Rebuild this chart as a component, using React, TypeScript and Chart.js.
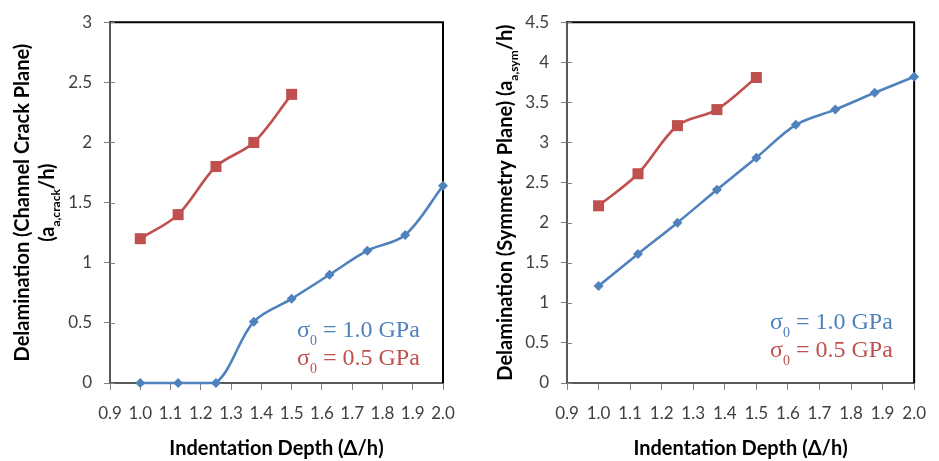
import React, { useEffect, useRef } from "react";
import { Chart, registerables } from "chart.js";

Chart.register(...registerables);

// ---- data ----
const depthBlue = [1.0, 1.125, 1.25, 1.375, 1.5, 1.625, 1.75, 1.875, 2.0];
const depthRed = [1.0, 1.125, 1.25, 1.375, 1.5];
const crackBlue = [0, 0, 0, 0.51, 0.7, 0.9, 1.1, 1.23, 1.64];
const crackRed = [1.2, 1.4, 1.8, 2.0, 2.4];
const symBlue = [1.21, 1.61, 2.0, 2.41, 2.81, 3.22, 3.41, 3.62, 3.82];
const symRed = [2.21, 2.61, 3.21, 3.41, 3.81];
const xMin = 0.9;
const xMax = 2.0;
const legendBlue = "1.0 GPa";
const legendRed = "0.5 GPa";

const BLUE = "#4F81BD";
const RED = "#C0504D";
const SANS = "Lato, 'Open Sans', sans-serif";
const SERIF = "'Liberation Serif', 'DejaVu Serif', serif";

type Seg = { t: string; sub?: boolean };

function drawRich(
  ctx: CanvasRenderingContext2D,
  segs: Seg[],
  x: number,
  y: number,
  size: number,
  family: string,
  weight: string,
  color: string,
  rotate: boolean,
  align: "center" | "left",
  subScale = 0.65,
  subDrop = 0.3
) {
  ctx.save();
  ctx.translate(x, y);
  if (rotate) ctx.rotate(-Math.PI / 2);
  const mainFont = `${weight} ${size}px ${family}`;
  const subSize = Math.round(size * subScale);
  const subFont = `${weight} ${subSize}px ${family}`;
  let total = 0;
  const widths = segs.map((s) => {
    ctx.font = s.sub ? subFont : mainFont;
    const w = ctx.measureText(s.t).width;
    total += w;
    return w;
  });
  let cx = align === "center" ? -total / 2 : 0;
  ctx.textBaseline = "alphabetic";
  ctx.textAlign = "left";
  ctx.fillStyle = color;
  segs.forEach((s, i) => {
    ctx.font = s.sub ? subFont : mainFont;
    ctx.fillText(s.t, cx, s.sub ? size * subDrop : 0);
    cx += widths[i];
  });
  ctx.restore();
}

type Panel = {
  blue: number[];
  red: number[];
  yMax: number;
  yWidth: number;
  padRight: number;
  yTitles: { segs: Seg[]; x: number }[];
  legendX: number;
  legendY: number;
};

function makeChart(canvas: HTMLCanvasElement, p: Panel) {
  const framePlugin = {
    id: "frame",
    beforeDatasetsDraw(chart: any) {
      const { ctx, chartArea: a } = chart;
      ctx.save();
      ctx.strokeStyle = "#000";
      ctx.lineWidth = 2;
      ctx.beginPath();
      ctx.moveTo(a.left, a.top);
      ctx.lineTo(a.right, a.top);
      ctx.lineTo(a.right, a.bottom);
      ctx.stroke();
      // inner part of y ticks
      const ys = chart.scales.y;
      ctx.strokeStyle = "#808080";
      ctx.lineWidth = 1;
      ys.ticks.forEach((t: any) => {
        const py = Math.round(ys.getPixelForValue(t.value)) + 0.5;
        ctx.beginPath();
        ctx.moveTo(a.left, py);
        ctx.lineTo(a.left + 5, py);
        ctx.stroke();
      });
      ctx.restore();
    },
    afterDraw(chart: any) {
      const { ctx, chartArea: a } = chart;
      const midY = (a.top + a.bottom) / 2;
      p.yTitles.forEach((t) => {
        drawRich(ctx, t.segs, t.x, midY, 20, SANS, "bold", "#000", true, "center", 0.62, 0.3);
      });
      drawRich(
        ctx,
        [{ t: "Indentation Depth (\u0394/h)" }],
        (a.left + a.right) / 2,
        455,
        20,
        SANS,
        "bold",
        "#000",
        false,
        "center"
      );
      drawRich(
        ctx,
        [{ t: "\u03c3" }, { t: "0", sub: true }, { t: " = " + legendBlue }],
        p.legendX,
        p.legendY,
        24,
        SERIF,
        "normal",
        BLUE,
        false,
        "left",
        0.6,
        0.32
      );
      drawRich(
        ctx,
        [{ t: "\u03c3" }, { t: "0", sub: true }, { t: " = " + legendRed }],
        p.legendX,
        p.legendY + 28,
        24,
        SERIF,
        "normal",
        RED,
        false,
        "left",
        0.6,
        0.32
      );
    },
  };

  const tickFont = { family: SANS, size: 17 };
  return new Chart(canvas, {
    type: "line",
    data: {
      datasets: [
        {
          label: "\u03c30 = " + legendBlue,
          data: depthBlue.map((x, i) => ({ x, y: p.blue[i] })),
          borderColor: BLUE,
          backgroundColor: BLUE,
          borderWidth: 2.6,
          pointStyle: "rectRot",
          pointRadius: 5,
          pointBorderWidth: 0,
          tension: 0.33,
          clip: false,
        },
        {
          label: "\u03c30 = " + legendRed,
          data: depthRed.map((x, i) => ({ x, y: p.red[i] })),
          borderColor: RED,
          backgroundColor: RED,
          borderWidth: 2.6,
          pointStyle: "rect",
          pointRadius: 7.8,
          pointBorderWidth: 0,
          tension: 0.33,
          clip: false,
        },
      ],
    },
    options: {
      responsive: false,
      animation: false,
      events: [],
      layout: { padding: { top: 14, right: p.padRight, left: 0, bottom: 0 } },
      plugins: { legend: { display: false }, tooltip: { enabled: false } },
      scales: {
        x: {
          type: "linear",
          min: xMin,
          max: xMax,
          afterFit: (s: any) => {
            s.height = 78;
          },
          border: { color: "#595959", width: 2 },
          grid: { drawOnChartArea: false, tickLength: 7, color: "#808080" },
          ticks: {
            stepSize: 0.1,
            padding: 13,
            color: "#404040",
            font: tickFont,
            maxRotation: 0,
            autoSkip: false,
            callback: (v: any) => Number(v).toFixed(1),
          },
        },
        y: {
          type: "linear",
          min: 0,
          max: p.yMax,
          afterFit: (s: any) => {
            s.width = p.yWidth;
          },
          border: { color: "#595959", width: 2 },
          grid: { drawOnChartArea: false, tickLength: 6, color: "#808080" },
          ticks: {
            stepSize: 0.5,
            padding: 12,
            color: "#404040",
            font: tickFont,
            callback: (v: any) => String(+Number(v).toFixed(2)),
          },
        },
      },
    },
    plugins: [framePlugin],
  } as any);
}

function ChartPanel({ width, panel }: { width: number; panel: Panel }) {
  const ref = useRef<HTMLCanvasElement>(null);
  useEffect(() => {
    if (!ref.current) return;
    const c = makeChart(ref.current, panel);
    return () => c.destroy();
  }, []);
  return <canvas ref={ref} width={width} height={461} style={{ display: "block" }} />;
}

const leftPanel: Panel = {
  blue: crackBlue,
  red: crackRed,
  yMax: 3,
  yWidth: 110,
  padRight: 27,
  yTitles: [
    { segs: [{ t: "Delamination (Channel Crack Plane)" }], x: 29 },
    { segs: [{ t: "(a" }, { t: "a,crack", sub: true }, { t: "/h)" }], x: 54 },
  ],
  legendX: 297,
  legendY: 337,
};

const rightPanel: Panel = {
  blue: symBlue,
  red: symRed,
  yMax: 4.5,
  yWidth: 97,
  padRight: 14,
  yTitles: [
    {
      segs: [
        { t: "Delamination (Symmetry Plane) (a" },
        { t: "a,sym", sub: true },
        { t: "/h)" },
      ],
      x: 42,
    },
  ],
  legendX: 300,
  legendY: 329,
};

export default function App() {
  return (
    <div
      style={{
        position: "absolute",
        left: 0,
        top: 0,
        width: 939,
        height: 461,
        display: "flex",
        background: "#fff",
      }}
    >
      <ChartPanel width={470} panel={leftPanel} />
      <ChartPanel width={469} panel={rightPanel} />
    </div>
  );
}
